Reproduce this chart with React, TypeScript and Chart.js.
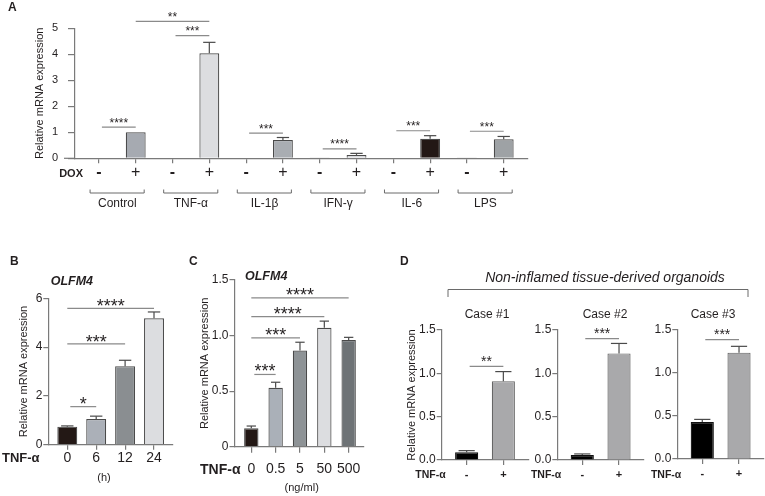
import React, { useEffect, useRef } from 'react';
import { Chart, registerables } from 'chart.js';

Chart.register(...registerables);

const W = 765;
const H = 496;
const FONT = "'Liberation Sans', Arial, Helvetica, sans-serif";
const AXIS = '#7a7a7a';
const TEXT = '#231f20';
const SIGLINE = '#8a8a8a';
const ERR = '#4a4a4a';
const YTITLE = 'Relative mRNA expression';

// ---------------- Panel A data ----------------
const aGroups = ['Control', 'TNF-α', 'IL-1β', 'IFN-γ', 'IL-6', 'LPS'];
const aDox = ['-', '+', '-', '+', '-', '+', '-', '+', '-', '+', '-', '+'];
const aValues = [0, 1.0, 0.02, 4.04, 0.02, 0.7, 0.01, 0.13, 0, 0.75, 0.01, 0.73];
const aErrors = [0, 0, 0, 0.42, 0, 0.1, 0, 0.06, 0, 0.12, 0, 0.11];
const aColors = ['#ffffff', '#a6aab1', '#ffffff', '#dcdde0', '#ffffff', '#a9adb2', '#ffffff', '#d9dadd', '#231815', '#231815', '#ffffff', '#9ea2a5'];
const aSigFrom = [0, 1, 2, 4, 6, 8, 10];
const aSigTo = [1, 3, 3, 5, 7, 9, 11];
const aSigY = [1.2, 5.27, 4.72, 0.97, 0.36, 1.06, 1.04];
const aSigText = ['****', '**', '***', '***', '****', '***', '***'];

// ---------------- Panel B data ----------------
const bTicks = ['0', '6', '12', '24'];
const bValues = [0.74, 1.05, 3.22, 5.18];
const bErrors = [0.03, 0.12, 0.24, 0.26];
const bColors = ['#231815', '#abb0b8', '#8a8e91', '#dcdde0'];
const bSigFrom = [0, 0, 0];
const bSigTo = [1, 2, 3];
const bSigY = [1.56, 4.13, 5.59];
const bSigText = ['*', '***', '****'];

// ---------------- Panel C data ----------------
const cTicks = ['0', '0.5', '5', '50', '500'];
const cValues = [0.165, 0.53, 0.866, 1.07, 0.96];
const cErrors = [0.021, 0.05, 0.074, 0.06, 0.024];
const cColors = ['#231815', '#aab0b8', '#8e9396', '#dcdde0', '#6e7376'];
const cSigFrom = [0, 0, 0, 0];
const cSigTo = [1, 2, 3, 4];
const cSigY = [0.65, 0.98, 1.17, 1.34];
const cSigText = ['***', '***', '****', '****'];

// ---------------- Panel D data ----------------
const dTicks = ['-', '+'];
const dColors = ['#000000', '#a9a9ab'];
const d1Values = [0.09, 0.91];
const d1Errors = [0.018, 0.11];
const d2Values = [0.058, 1.23];
const d2Errors = [0.012, 0.115];
const d3Values = [0.427, 1.23];
const d3Errors = [0.031, 0.073];
const dSigFrom = [0];
const dSigTo = [1];
const d1SigY = [1.08];
const d2SigY = [1.4];
const d3SigY = [1.38];
const d1SigText = ['**'];
const d23SigText = ['***'];

type Spec = {
  area: [number, number, number, number];
  xRange: [number, number];
  ticks: string[];
  values: number[];
  errors: number[];
  colors: string[];
  borders: string[];
  yMax: number;
  yStep: number;
  yFmt: (v: number) => string;
  yTickSize: number;
  yTickLen: number;
  yTickPad: number;
  xTickSize: number;
  xTickWeight: string;
  minusBold?: boolean;
  xTickLen: number;
  xTickPad: number;
  titleX: number | null;
  barFrac: number;
  capFrac: number;
  sigFrom: number[];
  sigTo: number[];
  sigY: number[];
  sigText: string[];
  starSize: number;
  starDy: number;
  decorate?: (chart: any, ctx: CanvasRenderingContext2D) => void;
};

function txt(
  ctx: CanvasRenderingContext2D,
  s: string,
  x: number,
  y: number,
  size: number,
  o: { weight?: string; style?: string; align?: CanvasTextAlign; color?: string } = {}
) {
  ctx.save();
  ctx.font = `${o.style ?? 'normal'} normal ${o.weight ?? 'normal'} ${size}px ${FONT}`;
  ctx.fillStyle = o.color ?? TEXT;
  ctx.textAlign = o.align ?? 'center';
  ctx.textBaseline = 'middle';
  ctx.fillText(s, x, y);
  ctx.restore();
}

function line(ctx: CanvasRenderingContext2D, pts: number[][], color: string, w = 1) {
  ctx.save();
  ctx.strokeStyle = color;
  ctx.lineWidth = w;
  ctx.beginPath();
  pts.forEach((p, i) => (i === 0 ? ctx.moveTo(p[0], p[1]) : ctx.lineTo(p[0], p[1])));
  ctx.stroke();
  ctx.restore();
}

function buildConfig(s: Spec) {
  const [L, T, R, B] = s.area;
  const titleSize = 11;
  const scaleLeft = s.titleX !== null ? s.titleX - (titleSize * 1.2) / 2 : L - 32;
  const yWidth = L - scaleLeft;
  const xHeight = 30;

  const overlay = {
    id: 'overlay',
    afterDatasetsDraw(chart: any) {
      const ctx: CanvasRenderingContext2D = chart.ctx;
      const xs = chart.scales.x;
      const ys = chart.scales.y;
      const meta = chart.getDatasetMeta(0);
      // error bars
      s.values.forEach((v, i) => {
        const e = s.errors[i];
        if (!e) return;
        const el = meta.data[i];
        const x = el.x;
        const y0 = ys.getPixelForValue(v);
        const y1 = ys.getPixelForValue(v + e);
        const cw = el.width * s.capFrac;
        line(ctx, [[x, y0], [x, y1]], ERR, 1.2);
        line(ctx, [[x - cw / 2, y1], [x + cw / 2, y1]], ERR, 1.2);
      });
      // significance
      s.sigFrom.forEach((f, i) => {
        const x0 = xs.getPixelForValue(f) + (s.sigTo[i] - f === 1 ? 3 : 0);
        const x1 = xs.getPixelForValue(s.sigTo[i]);
        const y = ys.getPixelForValue(s.sigY[i]);
        line(ctx, [[x0, y], [x1, y]], SIGLINE, 1.2);
        ctx.save();
        ctx.font = `normal normal normal ${s.starSize}px ${FONT}`;
        ctx.fillStyle = TEXT;
        ctx.textAlign = 'center';
        ctx.textBaseline = 'alphabetic';
        ctx.fillText(s.sigText[i], (x0 + x1) / 2, y + s.starDy);
        ctx.restore();
      });
    },
    afterDraw(chart: any) {
      if (s.decorate) s.decorate(chart, chart.ctx);
    },
  };

  return {
    type: 'bar',
    data: {
      datasets: [
        {
          data: s.values.map((v, i) => ({ x: i, y: v })),
          backgroundColor: s.colors,
          borderColor: s.borders,
          borderWidth: 1.2,
          barPercentage: s.barFrac,
          categoryPercentage: 1,
        },
      ],
    },
    options: {
      responsive: false,
      animation: false,
      events: [],
      layout: { padding: { left: scaleLeft, top: T, right: W - R, bottom: H - B - xHeight } },
      plugins: { legend: { display: false }, tooltip: { enabled: false } },
      scales: {
        x: {
          type: 'linear',
          min: s.xRange[0],
          max: s.xRange[1],
          offset: false,
          afterBuildTicks: (sc: any) => {
            sc.ticks = s.ticks.map((_, i) => ({ value: i }));
          },
          afterFit: (sc: any) => {
            sc.height = xHeight;
          },
          grid: {
            display: true,
            drawOnChartArea: false,
            drawTicks: true,
            tickLength: s.xTickLen,
            color: AXIS,
            lineWidth: 1.2,
            offset: false,
          },
          border: { display: true, color: AXIS, width: 1.2 },
          ticks: {
            autoSkip: false,
            maxRotation: 0,
            minRotation: 0,
            padding: s.xTickPad,
            color: TEXT,
            font: (c: any) => ({
              family: FONT,
              size: s.xTickSize,
              weight: s.minusBold && s.ticks[c.index] === '-' ? 'bold' : s.xTickWeight,
            }),
            callback: (v: number) => s.ticks[v] ?? '',
          },
        },
        y: {
          type: 'linear',
          min: 0,
          max: s.yMax,
          afterFit: (sc: any) => {
            sc.width = yWidth;
          },
          grid: {
            display: true,
            drawOnChartArea: false,
            drawTicks: true,
            tickLength: s.yTickLen,
            color: AXIS,
            lineWidth: 1.2,
          },
          border: { display: true, color: AXIS, width: 1.2 },
          ticks: {
            stepSize: s.yStep,
            padding: s.yTickPad,
            color: TEXT,
            font: { family: FONT, size: s.yTickSize },
            callback: (v: number) => s.yFmt(v),
          },
          title: {
            display: s.titleX !== null,
            text: YTITLE,
            color: TEXT,
            padding: 0,
            font: { family: FONT, size: titleSize },
          },
        },
      },
    },
    plugins: [overlay],
  };
}

const border = (n: number, c: string) => Array.from({ length: n }, () => c);

const specA: Spec = {
  area: [75, 28.3, 528, 158.3],
  xRange: [-0.65, 11.66],
  ticks: aDox,
  values: aValues,
  errors: aErrors,
  colors: aColors,
  borders: border(aValues.length, '#4a4a4a'),
  yMax: 5,
  yStep: 1,
  yFmt: (v) => String(v),
  yTickSize: 11,
  yTickLen: 7,
  yTickPad: 10,
  xTickSize: 16,
  xTickWeight: 'normal',
  minusBold: true,
  xTickLen: 5,
  xTickPad: 0,
  titleX: 39.7,
  barFrac: 0.54,
  capFrac: 0.62,
  sigFrom: aSigFrom,
  sigTo: aSigTo,
  sigY: aSigY,
  sigText: aSigText,
  starSize: 12,
  starDy: -0.5,
  decorate: (chart, ctx) => {
    const xs = chart.scales.x;
    const ca = chart.chartArea;
    const step = xs.getPixelForValue(1) - xs.getPixelForValue(0);
    line(ctx, [[ca.left - 11, ca.bottom], [ca.left, ca.bottom]], AXIS, 1.2);
    txt(ctx, 'A', 8, 7.5, 12, { weight: 'bold', align: 'left' });
    txt(ctx, 'DOX', 83, 173.5, 11, { weight: 'bold', align: 'right' });
    aGroups.forEach((g, gi) => {
      const x0 = xs.getPixelForValue(gi * 2) - 0.24 * step;
      const x1 = xs.getPixelForValue(gi * 2 + 1) + 0.23 * step;
      line(ctx, [[x0, 189.5], [x0, 193], [x1, 193], [x1, 189.5]], '#6a6a6a', 1);
      txt(ctx, g, xs.getPixelForValue(gi * 2 + 0.5), 203.5, 12);
    });
  },
};

const specB: Spec = {
  area: [48.3, 298.3, 173, 444.7],
  xRange: [-0.657, 3.657],
  ticks: bTicks,
  values: bValues,
  errors: bErrors,
  colors: bColors,
  borders: border(bValues.length, '#4a4a4a'),
  yMax: 6,
  yStep: 2,
  yFmt: (v) => String(v),
  yTickSize: 12,
  yTickLen: 5,
  yTickPad: 1,
  xTickSize: 14,
  xTickWeight: 'normal',
  xTickLen: 5,
  xTickPad: 0,
  titleX: 24,
  barFrac: 0.69,
  capFrac: 0.62,
  sigFrom: bSigFrom,
  sigTo: bSigTo,
  sigY: bSigY,
  sigText: bSigText,
  starSize: 18,
  starDy: 3.7,
  decorate: (chart, ctx) => {
    txt(ctx, 'B', 10, 261.5, 12, { weight: 'bold', align: 'left' });
    txt(ctx, 'OLFM4', 50.7, 282, 12.5, { weight: 'bold', style: 'italic', align: 'left' });
    txt(ctx, 'TNF-α', 2, 458, 13, { weight: 'bold', align: 'left' });
    txt(ctx, '(h)', 104, 478, 11);
  },
};

const specC: Spec = {
  area: [234.5, 280, 364, 446.7],
  xRange: [-0.69, 4.63],
  ticks: cTicks,
  values: cValues,
  errors: cErrors,
  colors: cColors,
  borders: border(cValues.length, '#4a4a4a'),
  yMax: 1.5,
  yStep: 0.5,
  yFmt: (v) => (v === 0 ? '0' : v.toFixed(1)),
  yTickSize: 12,
  yTickLen: 5,
  yTickPad: 1,
  xTickSize: 14,
  xTickWeight: 'normal',
  xTickLen: 6,
  xTickPad: 8,
  titleX: 204.7,
  barFrac: 0.59,
  capFrac: 0.65,
  sigFrom: cSigFrom,
  sigTo: cSigTo,
  sigY: cSigY,
  sigText: cSigText,
  starSize: 18,
  starDy: 3,
  decorate: (chart, ctx) => {
    txt(ctx, 'C', 189, 262, 12, { weight: 'bold', align: 'left' });
    txt(ctx, 'OLFM4', 245, 277, 12.5, { weight: 'bold', style: 'italic', align: 'left' });
    txt(ctx, 'TNF-α', 200, 470, 14, { weight: 'bold', align: 'left' });
    txt(ctx, '(ng/ml)', 301.7, 488, 11);
  },
};

function dSpec(
  area: [number, number, number, number],
  values: number[],
  errors: number[],
  sigY: number[],
  sigText: string[],
  titleX: number | null,
  caseLabel: string,
  caseX: number,
  extra?: (chart: any, ctx: CanvasRenderingContext2D) => void
): Spec {
  return {
    area,
    xRange: [-0.68, 1.68],
    ticks: dTicks,
    values,
    errors,
    colors: dColors,
    borders: ['#111111', '#666666'],
    yMax: 1.5,
    yStep: 0.5,
    yFmt: (v) => v.toFixed(1),
    yTickSize: 12,
    yTickLen: 5,
    yTickPad: 1,
    xTickSize: 11,
    xTickWeight: 'bold',
    xTickLen: 5,
    xTickPad: 3,
    titleX,
    barFrac: 0.63,
    capFrac: 0.7,
    sigFrom: dSigFrom,
    sigTo: dSigTo,
    sigY,
    sigText,
    starSize: 14,
    starDy: -0.5,
    decorate: (chart, ctx) => {
      const xs = chart.scales.x;
      txt(ctx, caseLabel, caseX, 315, 12);
      txt(ctx, 'TNF-α', xs.getPixelForValue(0) - 21, 475, 10.5, { weight: 'bold', align: 'right' });
      if (extra) extra(chart, ctx);
    },
  };
}

const specD1 = dSpec([441.7, 330, 528.3, 460], d1Values, d1Errors, d1SigY, d1SigText, 412, 'Case #1', 487, (chart, ctx) => {
  txt(ctx, 'D', 400, 262, 12, { weight: 'bold', align: 'left' });
  txt(ctx, 'Non-inflamed tissue-derived organoids', 605, 278.3, 14, { style: 'italic' });
  line(ctx, [[448, 297], [448, 289.5], [748, 289.5], [748, 297]], '#6a6a6a', 1);
});
const specD2 = dSpec([557.3, 330, 644, 460], d2Values, d2Errors, d2SigY, d23SigText, null, 'Case #2', 605);
const specD3 = dSpec([677.3, 329.3, 764, 459], d3Values, d3Errors, d3SigY, d23SigText, null, 'Case #3', 713);

const specs: Spec[] = [specA, specB, specC, specD1, specD2, specD3];

function Panel({ spec }: { spec: Spec }) {
  const ref = useRef<HTMLCanvasElement>(null);
  useEffect(() => {
    if (!ref.current) return;
    const chart = new Chart(ref.current, buildConfig(spec) as any);
    return () => chart.destroy();
  }, [spec]);
  return (
    <canvas
      ref={ref}
      width={W}
      height={H}
      style={{ position: 'absolute', left: 0, top: 0, width: W, height: H }}
    />
  );
}

export default function App() {
  return (
    <div
      style={{
        position: 'fixed',
        left: 0,
        top: 0,
        width: W,
        height: H,
        background: '#ffffff',
        overflow: 'hidden',
      }}
    >
      {specs.map((s, i) => (
        <Panel key={i} spec={s} />
      ))}
    </div>
  );
}
